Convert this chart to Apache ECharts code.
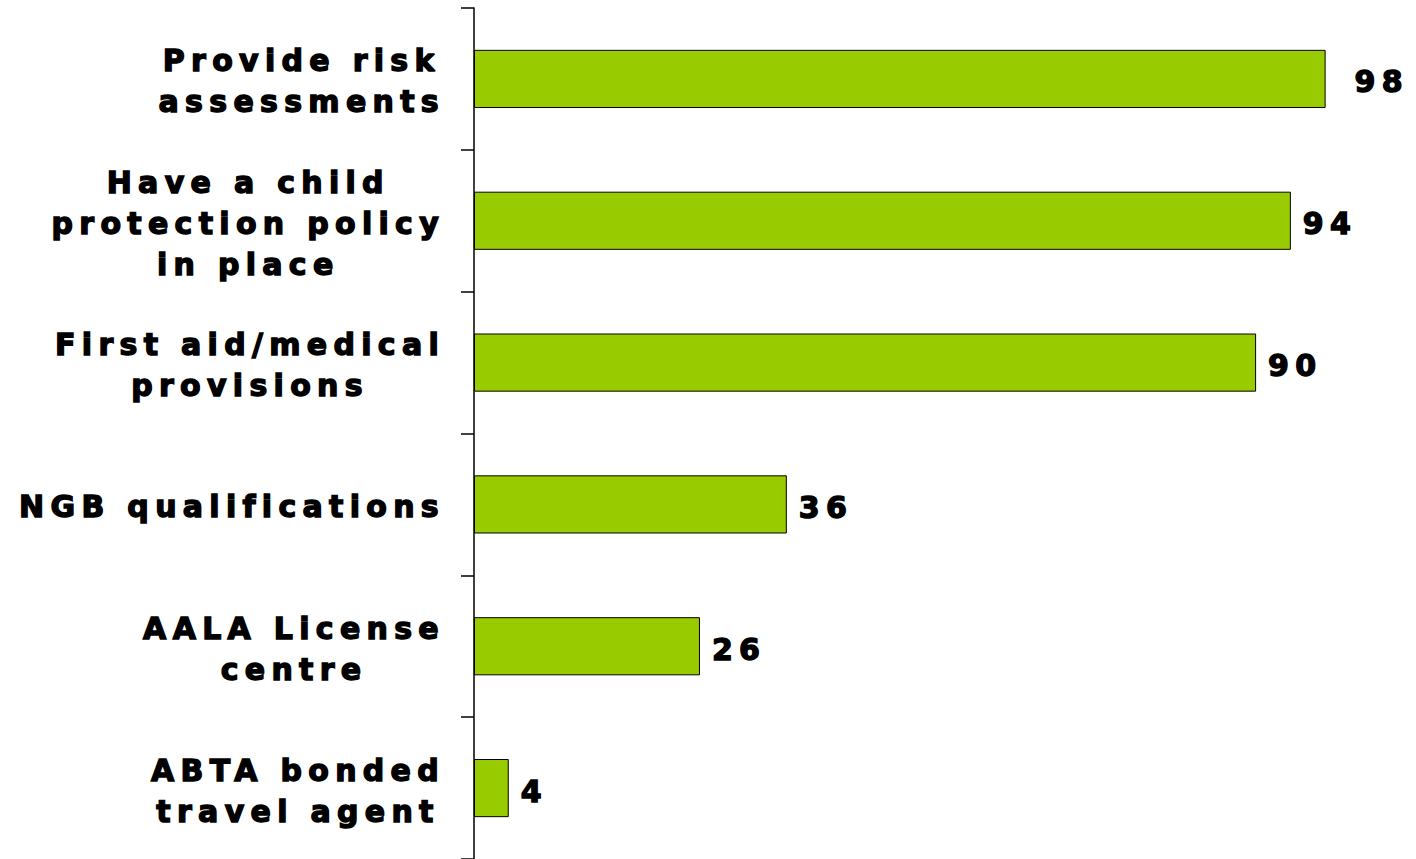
<!DOCTYPE html>
<html>
<head>
<meta charset="utf-8">
<style>
  html, body { margin: 0; padding: 0; background: #ffffff; }
  #chart { width: 1416px; height: 859px; }
  /* wide, tracked lettering for every label */
  #chart svg text { letter-spacing: 6.3px; }
</style>
<script src="https://cdn.jsdelivr.net/npm/echarts@6/dist/echarts.min.js"></script>
</head>
<body>
<div id="chart"></div>
<script>
// Safety and accreditation provisions offered (%)
const categories = [
  'Provide risk\nassessments',
  'Have a child\nprotection policy\nin place',
  'First aid/medical\nprovisions',
  'NGB qualifications',
  'AALA License\ncentre',
  'ABTA bonded\ntravel agent'
];
const values = [98, 94, 90, 36, 26, 4];

const FONT = '"DejaVu Sans", Verdana, sans-serif';
const TRACKING = '6.3px';

// text layout has to know about the tracking applied by the stylesheet
const measureCtx = document.createElement('canvas').getContext('2d');
measureCtx.letterSpacing = TRACKING;
echarts.setPlatformAPI({
  measureText(text, font) {
    measureCtx.font = font || '12px sans-serif';
    return measureCtx.measureText(text);
  }
});

const chart = echarts.init(document.getElementById('chart'), null, { renderer: 'svg' });

// wrap every line in a centred rich-text token so multi-line labels centre on each other
function labelText(s) {
  return s.split('\n').map(line => '{c|' + line + '}').join('\n');
}

// shared heavy lettering: bold face plus a thin outline of the same colour
const heavyText = {
  fontFamily: FONT,
  fontWeight: 'bold',
  fontSize: 30,
  color: '#000',
  textBorderColor: '#000',
  textBorderWidth: 1.4
};

chart.setOption({
  animation: false,
  grid: { left: 474, right: 73, top: 8, bottom: 0, containLabel: false },
  xAxis: {
    type: 'value',
    min: 0,
    max: 100,
    show: false
  },
  yAxis: {
    type: 'category',
    data: categories,
    inverse: true,
    axisLine: { show: true, lineStyle: { color: '#000', width: 1.5 } },
    axisTick: { show: true, length: 13, lineStyle: { color: '#000', width: 1.5 } },
    axisLabel: {
      margin: 29,
      align: 'right',
      padding: [5, 0, 0, 0],
      formatter: labelText,
      rich: {
        c: Object.assign({ align: 'center', lineHeight: 41 }, heavyText)
      }
    },
    splitLine: { show: false }
  },
  series: [{
    type: 'bar',
    data: values.map((v, i) => i === 0
      ? { value: v, label: { distance: 29 } }
      : v),
    barCategoryGap: '59%',
    itemStyle: { color: '#99CC00', borderColor: '#000', borderWidth: 1 },
    label: Object.assign({
      show: true,
      position: 'right',
      distance: 12,
      offset: [0, 3]
    }, heavyText)
  }]
});
</script>
</body>
</html>
